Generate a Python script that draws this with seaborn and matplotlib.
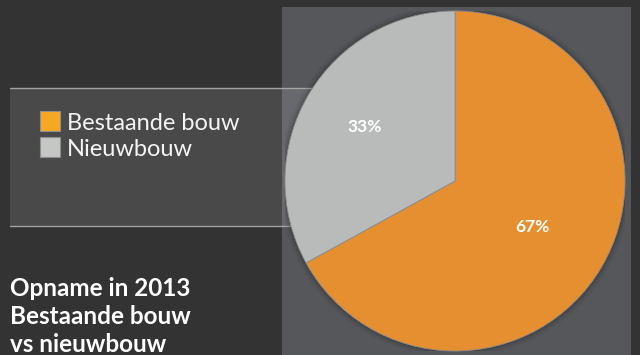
import numpy as np
import matplotlib
matplotlib.use("Agg")
import matplotlib.pyplot as plt
from matplotlib.patches import Rectangle, Circle
import seaborn as sns

# ---- data ----
categories = ["Bestaande bouw", "Nieuwbouw"]
values = [67, 33]
pct_labels = ["67%", "33%"]
wedge_colors = ["#E68F30", "#B9BBBA"]
legend_colors = ["#F7A823", "#C5C7C4"]
title_lines = ["Opname in 2013", "Bestaande bouw", "vs nieuwbouw"]

sns.set_theme(style="dark")
plt.rcParams["font.family"] = ["Lato", "DejaVu Sans"]

W, H = 640, 355
fig = plt.figure(figsize=(W / 100, H / 100), dpi=100)
fig.patch.set_facecolor("#333333")

def fx(px):
    return px / W

def fy(py):
    return 1 - py / H

# panel behind the pie
fig.patches.append(Rectangle((fx(282), fy(360)), fx(631) - fx(282), fy(7) - fy(360),
                             transform=fig.transFigure, facecolor="#56575A",
                             edgecolor="none", zorder=0))
# translucent legend box
fig.patches.append(Rectangle((fx(10), fy(226)), fx(312) - fx(10), fy(88) - fy(226),
                             transform=fig.transFigure, facecolor="white", alpha=0.11,
                             edgecolor="none", zorder=1))
for yy in (88, 226):
    fig.lines.append(plt.Line2D([fx(10), fx(312)], [fy(yy), fy(yy)],
                                transform=fig.transFigure, color="#A3A3A3",
                                lw=1.0, zorder=2))

# pie axes
ax = fig.add_axes([fx(285), fy(351), fx(625) - fx(285), fy(11) - fy(351)])
ax.set_zorder(5)
ax.set_facecolor("none")
ax.patch.set_alpha(0)

# soft shadow
for r, a in [(1.035, 0.05), (1.02, 0.08), (1.008, 0.12)]:
    ax.add_patch(Circle((0, 0), r, facecolor="black", alpha=a, edgecolor="none", zorder=0))

wedges, _ = ax.pie(values, colors=wedge_colors, startangle=90, counterclock=False,
                   wedgeprops=dict(edgecolor="#8C8C8C", linewidth=0.6))
for w in wedges:
    w.set_zorder(2)

dists = [0.53, 0.62]
for w, lab, d in zip(wedges, pct_labels, dists):
    mid = np.deg2rad((w.theta1 + w.theta2) / 2)
    ax.text(d * np.cos(mid), d * np.sin(mid), lab, ha="center", va="center",
            color="white", fontsize=12.5, fontweight="bold", zorder=3)

ax.set_xlim(-1.0, 1.0)
ax.set_ylim(-1.0, 1.0)
ax.set_aspect("equal")
ax.axis("off")

# legend
sq = 20
ys = [111, 137]
for cat, col, y0 in zip(categories, legend_colors, ys):
    fig.patches.append(Rectangle((fx(40), fy(y0 + sq)), fx(40 + sq) - fx(40), fy(y0) - fy(y0 + sq),
                                 transform=fig.transFigure, facecolor=col,
                                 edgecolor="#8E8E8E", lw=0.8, zorder=3))
    fig.text(fx(67), fy(y0 + 19), cat, color="#F4F4F4", fontsize=17,
             fontweight="normal", ha="left", va="baseline", zorder=3)

# title
for i, line in enumerate(title_lines):
    fig.text(fx(10), fy(296 + i * 28), line, color="white", fontsize=17.5,
             fontweight="bold", ha="left", va="baseline", zorder=3)

fig.savefig("out.png", dpi=100, facecolor=fig.get_facecolor())
